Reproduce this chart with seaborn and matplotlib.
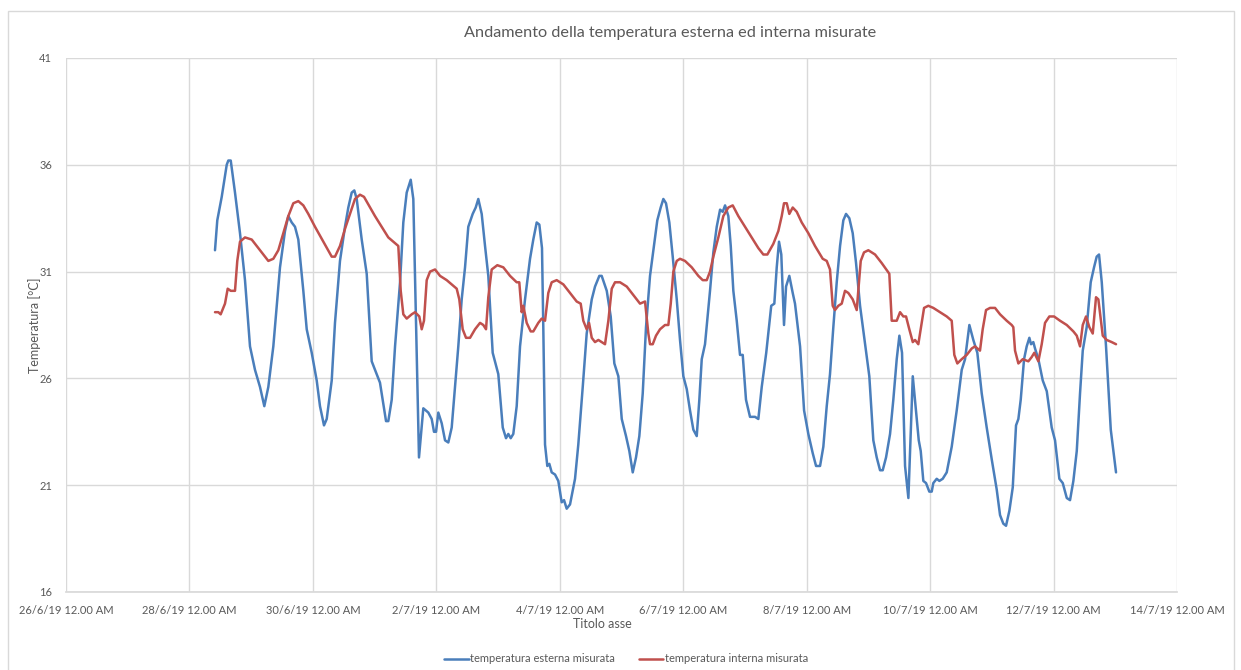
import numpy as np
import pandas as pd
import matplotlib
matplotlib.use("Agg")
import matplotlib.pyplot as plt
import matplotlib.dates as mdates
from matplotlib.ticker import FixedLocator
from matplotlib.lines import Line2D
import seaborn as sns

# ---------------- data ----------------
start = pd.Timestamp("2019-06-26 00:00")

ext_days = [2.414, 2.451, 2.523, 2.604, 2.630, 2.669, 2.738, 2.819, 2.900, 2.981, 3.062, 3.143, 3.213, 3.278,
            3.359, 3.467, 3.548, 3.602, 3.657, 3.710, 3.764, 3.845, 3.900, 3.981, 4.062, 4.115, 4.180, 4.224,
            4.305, 4.358, 4.439, 4.520, 4.574, 4.629, 4.671, 4.710, 4.791, 4.872, 4.953, 5.034, 5.087, 5.141,
            5.185, 5.222, 5.277, 5.331, 5.412, 5.465, 5.520, 5.585, 5.627, 5.671, 5.719, 5.789, 5.870, 5.925,
            5.962, 5.995, 6.032, 6.087, 6.141, 6.194, 6.249, 6.303, 6.356, 6.411, 6.465, 6.518, 6.589, 6.638,
            6.680, 6.735, 6.789, 6.842, 6.913, 7.004, 7.076, 7.129, 7.166, 7.205, 7.247, 7.302, 7.356, 7.437,
            7.518, 7.571, 7.626, 7.669, 7.712, 7.733, 7.761, 7.798, 7.831, 7.869, 7.923, 7.976, 8.031, 8.069,
            8.112, 8.166, 8.247, 8.300, 8.372, 8.436, 8.518, 8.571, 8.641, 8.679, 8.761, 8.825, 8.884, 8.949,
            9.004, 9.073, 9.127, 9.182, 9.235, 9.289, 9.344, 9.397, 9.462, 9.516, 9.580, 9.635, 9.678, 9.721,
            9.775, 9.830, 9.895, 9.948, 10.002, 10.057, 10.110, 10.164, 10.219, 10.261, 10.300, 10.353, 10.434,
            10.488, 10.543, 10.597, 10.640, 10.678, 10.731, 10.770, 10.812, 10.867, 10.920, 10.964, 11.017,
            11.082, 11.163, 11.217, 11.272, 11.345, 11.426, 11.476, 11.515, 11.552, 11.589, 11.633, 11.666,
            11.719, 11.774, 11.811, 11.893, 11.958, 12.027, 12.098, 12.152, 12.217, 12.270, 12.325, 12.378,
            12.432, 12.487, 12.541, 12.594, 12.638, 12.691, 12.746, 12.800, 12.865, 12.946, 13.015, 13.080,
            13.135, 13.189, 13.232, 13.286, 13.351, 13.404, 13.459, 13.502, 13.545, 13.594, 13.648, 13.719,
            13.816, 13.848, 13.890, 13.934, 13.987, 14.026, 14.052, 14.107, 14.150, 14.204, 14.269, 14.350,
            14.431, 14.512, 14.566, 14.636, 14.700, 14.765, 14.836, 14.917, 14.999, 15.079, 15.133, 15.186,
            15.230, 15.284, 15.339, 15.392, 15.430, 15.468, 15.522, 15.565, 15.608, 15.635, 15.672, 15.700,
            15.754, 15.825, 15.890, 15.970, 16.024, 16.094, 16.149, 16.214, 16.267, 16.321, 16.376, 16.429,
            16.473, 16.537, 16.602, 16.656, 16.699, 16.737, 16.781, 16.850, 16.927, 17.012]
ext_temp = [32.0, 33.4, 34.5, 36.0, 36.2, 36.2, 34.7, 32.8, 30.6, 27.5, 26.4, 25.6, 24.7, 25.6,
            27.5, 31.2, 32.9, 33.6, 33.3, 33.1, 32.5, 30.1, 28.3, 27.2, 25.9, 24.7, 23.8, 24.1,
            25.9, 28.6, 31.5, 33.1, 34.0, 34.7, 34.8, 34.4, 32.5, 30.9, 26.8, 26.2, 25.8, 24.8,
            24.0, 24.0, 25.0, 27.5, 30.5, 33.3, 34.7, 35.3, 34.4, 28.6, 22.3, 24.6, 24.4, 24.1,
            23.5, 23.5, 24.4, 23.9, 23.1, 23.0, 23.7, 25.6, 27.5, 29.7, 31.2, 33.1, 33.7, 34.0,
            34.4, 33.7, 32.2, 30.8, 27.2, 26.2, 23.7, 23.2, 23.4, 23.2, 23.4, 24.7, 27.5, 29.7,
            31.6, 32.5, 33.3, 33.2, 32.1, 28.4, 22.9, 21.9, 22.0, 21.6, 21.5, 21.2, 20.2, 20.3,
            19.9, 20.1, 21.3, 22.9, 25.6, 28.1, 29.7, 30.3, 30.8, 30.8, 30.1, 28.9, 26.7, 26.1,
            24.1, 23.3, 22.6, 21.6, 22.3, 23.3, 25.3, 28.4, 30.8, 32.0, 33.4, 34.0, 34.4, 34.2,
            33.3, 31.7, 29.7, 27.8, 26.1, 25.5, 24.5, 23.6, 23.3, 25.0, 26.9, 27.6, 30.1,
            31.9, 33.1, 33.9, 33.8, 34.1, 33.6, 32.2, 30.1, 28.7, 27.1, 27.1, 25.0,
            24.2, 24.2, 24.1, 25.6, 27.2, 29.4, 29.5, 31.2, 32.4, 31.8, 28.5, 30.3,
            30.8, 30.0, 29.5, 27.5, 24.5, 23.4, 22.5, 21.9, 21.9, 22.8, 24.7, 26.2,
            28.4, 30.5, 32.2, 33.4, 33.7, 33.5, 32.8, 31.4, 29.4, 27.6, 26.1, 23.1,
            22.3, 21.7, 21.7, 22.3, 23.4, 25.0, 26.9, 28.0, 27.2, 21.9, 20.4, 26.1,
            23.1, 22.6, 21.2, 21.1, 20.7, 20.7, 21.1, 21.3, 21.2, 21.3, 21.6, 22.8,
            24.5, 26.4, 26.9, 28.5, 27.8, 27.2, 25.3, 23.7, 22.2, 20.8, 19.6, 19.2,
            19.1, 19.8, 20.9, 23.8, 24.1, 25.0, 26.9, 27.5, 27.9, 27.6, 27.7, 27.4,
            26.9, 25.9, 25.4, 23.7, 23.1, 21.3, 21.1, 20.4, 20.3, 21.2, 22.6, 25.3,
            27.3, 28.4, 30.5, 31.2, 31.7, 31.8, 30.5, 27.5, 23.6, 21.6]

int_days = [2.414, 2.468, 2.506, 2.576, 2.620, 2.669, 2.738, 2.775, 2.819, 2.900, 3.009, 3.143, 3.278, 3.359,
            3.440, 3.521, 3.602, 3.683, 3.764, 3.845, 3.926, 4.034, 4.169, 4.305, 4.358, 4.439, 4.520, 4.601,
            4.682, 4.763, 4.828, 4.926, 5.006, 5.115, 5.222, 5.303, 5.384, 5.423, 5.465, 5.520, 5.601, 5.655,
            5.724, 5.763, 5.800, 5.844, 5.898, 5.979, 6.060, 6.168, 6.249, 6.330, 6.372, 6.427, 6.481, 6.546,
            6.627, 6.708, 6.761, 6.805, 6.842, 6.897, 6.988, 7.085, 7.194, 7.302, 7.344, 7.383, 7.409, 7.464,
            7.529, 7.571, 7.652, 7.707, 7.761, 7.814, 7.869, 7.950, 8.058, 8.166, 8.274, 8.339, 8.381, 8.436,
            8.474, 8.518, 8.571, 8.625, 8.679, 8.733, 8.787, 8.842, 8.895, 8.976, 9.085, 9.192, 9.300, 9.381,
            9.435, 9.462, 9.506, 9.559, 9.624, 9.705, 9.759, 9.798, 9.840, 9.895, 9.948, 10.029, 10.138,
            10.245, 10.316, 10.381, 10.434, 10.488, 10.569, 10.650, 10.731, 10.802, 10.893, 11.001, 11.110,
            11.217, 11.298, 11.363, 11.460, 11.541, 11.596, 11.633, 11.677, 11.719, 11.774, 11.839, 11.920,
            12.027, 12.135, 12.260, 12.325, 12.378, 12.422, 12.459, 12.513, 12.568, 12.621, 12.675, 12.746,
            12.811, 12.876, 12.929, 12.999, 13.108, 13.216, 13.339, 13.378, 13.459, 13.513, 13.566, 13.610,
            13.663, 13.719, 13.756, 13.809, 13.848, 13.902, 13.971, 14.052, 14.160, 14.269, 14.350, 14.392,
            14.441, 14.512, 14.593, 14.674, 14.727, 14.808, 14.852, 14.906, 14.971, 15.052, 15.133, 15.241,
            15.322, 15.348, 15.376, 15.430, 15.501, 15.592, 15.646, 15.688, 15.754, 15.808, 15.862, 15.932,
            16.008, 16.105, 16.214, 16.321, 16.376, 16.429, 16.473, 16.526, 16.580, 16.635, 16.688, 16.726,
            16.797, 16.861, 16.942, 17.012]
int_temp = [29.1, 29.1, 29.0, 29.5, 30.2, 30.1, 30.1, 31.5, 32.4, 32.6, 32.5, 32.0, 31.5, 31.6,
            32.0, 32.8, 33.6, 34.2, 34.3, 34.1, 33.7, 33.1, 32.4, 31.7, 31.7, 32.2, 33.0, 33.7,
            34.4, 34.6, 34.5, 34.0, 33.6, 33.1, 32.6, 32.4, 32.2, 30.1, 29.0, 28.8, 29.0, 29.1,
            28.9, 28.3, 28.7, 30.6, 31.0, 31.1, 30.8, 30.6, 30.4, 30.2, 29.7, 28.3, 27.9, 27.9,
            28.3, 28.6, 28.5, 28.3, 29.8, 31.1, 31.3, 31.2, 30.8, 30.5, 30.5, 29.1, 29.4, 28.6,
            28.2, 28.2, 28.6, 28.8, 28.7, 30.0, 30.5, 30.6, 30.4, 30.0, 29.6, 29.5, 28.7, 28.3,
            28.6, 27.9, 27.7, 27.8, 27.7, 27.6, 28.7, 30.2, 30.5, 30.5, 30.3, 29.9, 29.5, 29.6,
            28.1, 27.6, 27.6, 28.0, 28.3, 28.5, 28.5, 29.5, 31.0, 31.5, 31.6, 31.5, 31.2,
            30.8, 30.6, 30.6, 31.0, 31.7, 32.6, 33.6, 34.0, 34.1, 33.6, 33.1, 32.6,
            32.1, 31.8, 31.8, 32.3, 32.9, 33.6, 34.2, 34.2, 33.7, 34.0, 33.8, 33.3,
            32.8, 32.2, 31.6, 31.5, 31.1, 29.4, 29.2, 29.4, 29.5, 30.1, 30.0, 29.7,
            29.2, 31.5, 31.9, 32.0, 31.8, 31.4, 30.9, 28.7, 28.7, 29.1, 28.9, 28.9,
            28.3, 27.7, 27.8, 27.6, 28.3, 29.3, 29.4, 29.3, 29.1, 28.9, 28.7, 27.1,
            26.7, 26.9, 27.1, 27.4, 27.5, 27.3, 28.3, 29.2, 29.3, 29.3, 29.0, 28.7,
            28.5, 28.4, 27.3, 26.7, 26.9, 26.8, 27.0, 27.2, 26.8, 27.6, 28.6, 28.9,
            28.9, 28.7, 28.5, 28.2, 28.0, 27.5, 28.5, 28.9, 28.4, 28.1, 29.8, 29.7,
            28.0, 27.8, 27.7, 27.6]

series_names = ["temperatura esterna misurata", "temperatura interna misurata"]
series_colors = ["#4A7EBB", "#C0504D"]
tick_days = [0, 2, 4, 6, 8, 10, 12, 14, 16, 18]
y_ticks = [16, 21, 26, 31, 36, 41]

df = pd.concat([
    pd.DataFrame({"time": start + pd.to_timedelta(ext_days, unit="D"), "temp": ext_temp, "serie": series_names[0]}),
    pd.DataFrame({"time": start + pd.to_timedelta(int_days, unit="D"), "temp": int_temp, "serie": series_names[1]}),
], ignore_index=True)

# ---------------- plot ----------------
sns.set_theme(style="white")
plt.rcParams["font.family"] = ["Lato", "DejaVu Sans"]

W, H = 1241, 670
fig = plt.figure(figsize=(W / 100, H / 100), dpi=100)
ax = fig.add_axes([66 / W, 1 - 592 / H, (1177 - 66) / W, (592 - 58) / H])

sns.lineplot(data=df, x="time", y="temp", hue="serie", palette=dict(zip(series_names, series_colors)),
             linewidth=1.8, ax=ax, legend=False, estimator=None, sort=False)

tick_dates = [start + pd.Timedelta(days=d) for d in tick_days]
ax.set_xlim(mdates.date2num(tick_dates[0]), mdates.date2num(tick_dates[-1]))
ax.xaxis.set_major_locator(FixedLocator(mdates.date2num(tick_dates)))
ax.set_xticklabels([f"{d.day}/{d.month}/{d.year % 100} 12.00 AM" for d in tick_dates])
ax.set_ylim(y_ticks[0], y_ticks[-1])
ax.set_yticks(y_ticks)

grid_c = "#D9D9D9"
ax.grid(True, color=grid_c, linewidth=1.0)
ax.set_axisbelow(True)
for s in ax.spines.values():
    s.set_visible(False)
ax.spines["bottom"].set_visible(True)
ax.spines["bottom"].set_color(grid_c)
ax.tick_params(axis="both", length=0, labelsize=8, colors="#595959")
ax.tick_params(axis="x", pad=9)
ax.tick_params(axis="y", pad=10)

ax.set_xlabel("Titolo asse", fontsize=9, color="#595959")
ax.xaxis.set_label_coords((602 - 66) / 1111, (592 - 618) / 534)
ax.set_ylabel("Temperatura [°C]", fontsize=9, color="#595959")
ax.yaxis.set_label_coords((41 - 66) / 1111, 0.5)
fig.text(670 / W, 1 - 33 / H, "Andamento della temperatura esterna ed interna misurate",
         ha="center", va="center", fontsize=11.7, color="#595959")

handles = [Line2D([], [], color=c, linewidth=1.8) for c in series_colors]
fig.legend(handles, series_names, loc="center", bbox_to_anchor=(626 / W, 1 - 659 / H), ncol=2,
           frameon=False, fontsize=8, handlelength=2.2, handletextpad=0.1, columnspacing=2.2,
           labelcolor="#595959")

# chart border
fig.add_artist(plt.Rectangle((8 / W, -0.01), (1234 - 8) / W, 1 - 11 / H + 0.01, transform=fig.transFigure,
                             fill=False, edgecolor=grid_c, linewidth=1.0))

fig.savefig("out.png", dpi=100, facecolor="white")
